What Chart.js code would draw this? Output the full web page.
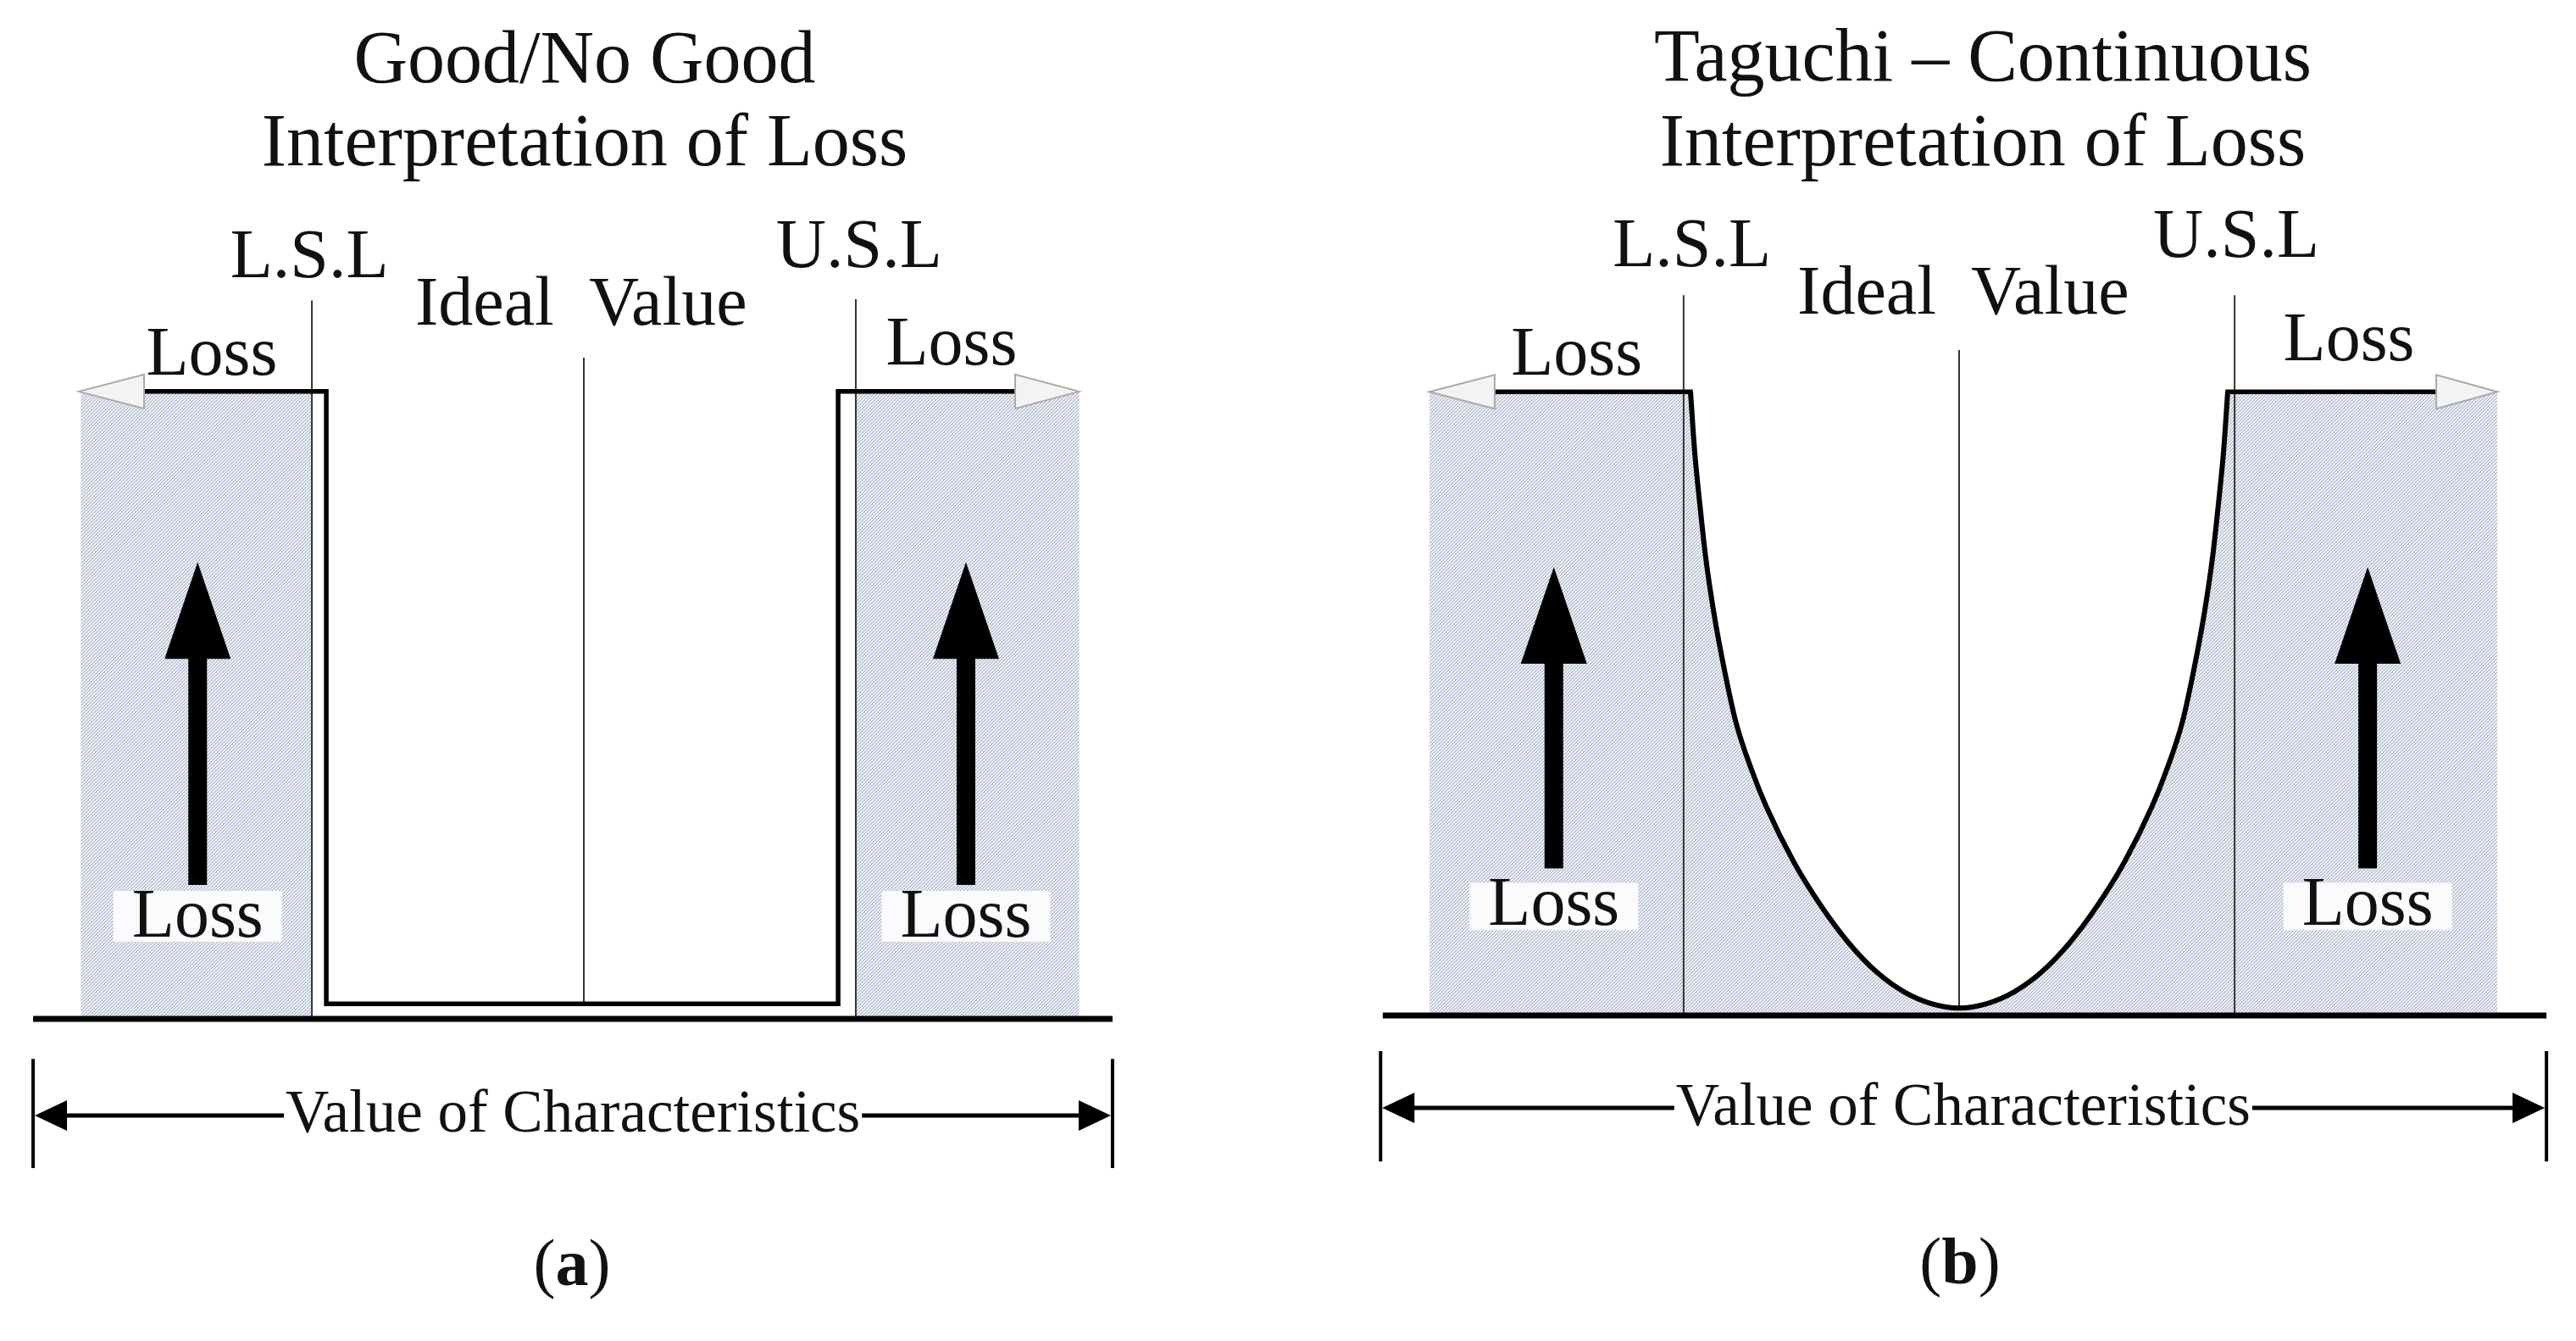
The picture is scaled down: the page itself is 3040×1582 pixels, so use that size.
<!DOCTYPE html>
<html>
<head>
<meta charset="utf-8">
<title>Good/No Good vs Taguchi loss</title>
<script src="https://cdn.jsdelivr.net/npm/chart.js@4.4.1/dist/chart.umd.min.js"></script>
<style>
    html, body { margin: 0; padding: 0; background: #fff; }
    #wrap { width: 3040px; height: 1582px; display: flex; }
    canvas { display: block; }
</style>
</head>
<body>
<div id="wrap">
    <canvas id="chartA" width="1520" height="1582"></canvas>
    <canvas id="chartB" width="1520" height="1582"></canvas>
</div>
<script>
// Characteristic value scaled so that L.S.L = -1, U.S.L = 1; loss scaled so max loss = 1
const specLimits = [-1, 1];
const idealValue = 0;
const maxLoss = 1;

// (a) Good/No Good – step loss
const stepX = [-1.617, -0.947, -0.947, 0.935, 0.935, 1.586];
const stepLoss = [1, 1, 0.024, 0.024, 1, 1];
const zoneEdgesA = [-1.85, 1.822];
const baseLineA = [-2.025, 1.944];
const limitTopsA = [1.145, 1.147];
const idealLineA = [0.024, 1.054];

// (b) Taguchi – continuous loss
const taguchiX = [-0.975, -0.96, -0.94, -0.92, -0.89, -0.85, -0.81, -0.75, -0.7, -0.6, -0.5, -0.4, -0.3, -0.2, -0.1, 0,
                  0.1, 0.2, 0.3, 0.4, 0.5, 0.6, 0.7, 0.75, 0.81, 0.85, 0.89, 0.92, 0.94, 0.96, 0.975];
const taguchiLoss = [1.00, 0.905, 0.815, 0.735, 0.645, 0.55, 0.47, 0.39, 0.335, 0.246, 0.175, 0.116, 0.07, 0.038, 0.019, 0.012,
                     0.019, 0.038, 0.07, 0.116, 0.175, 0.246, 0.335, 0.39, 0.47, 0.55, 0.645, 0.735, 0.815, 0.905, 1.00];
const flatEndsB = [-1.686, 1.732];
const zoneEdgesB = [-1.923, 1.954];
const baseLineB = [-2.092, 2.132];
const limitTopsB = [1.155, 1.155];
const idealLineB = [0.012, 1.067];

// text
const titleA = ['Good/No Good', 'Interpretation of Loss'];
const titleB = ['Taguchi \u2013 Continuous', 'Interpretation of Loss'];
const limitLabels = ['L.S.L', 'U.S.L'];
const idealLabel = 'Ideal  Value';
const lossLabel = 'Loss';
const axisLabel = 'Value of Characteristics';
const panelTags = ['a', 'b'];

const SERIF = '"Liberation Serif", "Times New Roman", serif';
const INK = '#111';

function hatchPattern(ctx) {
    const c = document.createElement('canvas');
    c.width = 4; c.height = 4;
    const g = c.getContext('2d');
    g.fillStyle = '#eaedf4';
    g.fillRect(0, 0, 4, 4);
    g.strokeStyle = '#9ca7c2';
    g.lineWidth = 1;
    g.beginPath();
    g.moveTo(0, 4); g.lineTo(4, 0);
    g.moveTo(-1, 1); g.lineTo(1, -1);
    g.moveTo(3, 5); g.lineTo(5, 3);
    g.stroke();
    return ctx.createPattern(c, 'repeat');
}

const pts = (xs, ys) => xs.map((x, i) => ({ x: x, y: ys[i] }));
const seg = (x0, y0, x1, y1) => [{ x: x0, y: y0 }, { x: x1, y: y1 }];

function shade(pattern, x0, x1) {
    return { data: seg(x0, maxLoss, x1, maxLoss), fill: 'origin', backgroundColor: pattern,
             borderWidth: 0, order: 6 };
}
function thin(data) {
    return { data: data, borderColor: '#333', borderWidth: 2, order: 3 };
}
function thick(data, extra) {
    return Object.assign({ data: data, borderColor: '#000', borderWidth: 5.5,
                           borderJoinStyle: 'miter', borderCapStyle: 'square', order: 1 }, extra || {});
}

// draws labels, arrows and the dimension line on top of the datasets
function annotations(p) {
    return {
        id: 'lossAnnotations',
        afterDraw(chart) {
            const ctx = chart.ctx;
            const px = v => chart.scales.x.getPixelForValue(v);
            const py = v => chart.scales.y.getPixelForValue(v);
            const text = (str, xv, yv, size, weight) => {
                ctx.font = (weight || 'normal') + ' ' + size + 'px ' + SERIF;
                ctx.fillStyle = INK;
                ctx.textAlign = 'center';
                ctx.textBaseline = 'alphabetic';
                ctx.fillText(str, px(xv), py(yv));
            };
            ctx.save();

            // hollow arrows at the ends of the loss line
            p.hollow.forEach(([tip, base]) => {
                const yy = py(maxLoss);
                ctx.beginPath();
                ctx.moveTo(px(tip), yy);
                ctx.lineTo(px(base), yy - 20);
                ctx.lineTo(px(base), yy + 20);
                ctx.closePath();
                ctx.fillStyle = '#f3f3f3';
                ctx.fill();
                ctx.strokeStyle = '#a9a9a9';
                ctx.lineWidth = 2;
                ctx.stroke();
            });

            // black "loss increases" arrows with boxed labels
            p.upArrows.forEach(xv => {
                const cx = px(xv);
                ctx.fillStyle = '#000';
                ctx.fillRect(cx - 11, py(p.arrowY[1]) - 1, 22, py(p.arrowY[0]) - py(p.arrowY[1]) + 1);
                ctx.beginPath();
                ctx.moveTo(cx - 39, py(p.arrowY[1]));
                ctx.lineTo(cx + 39, py(p.arrowY[1]));
                ctx.lineTo(cx, py(p.arrowY[2]));
                ctx.closePath();
                ctx.fill();

                ctx.font = '82px ' + SERIF;
                const w = ctx.measureText(lossLabel).width + 44;
                ctx.fillStyle = 'rgba(255,255,255,0.88)';
                ctx.fillRect(cx - w / 2, py(p.lowBox[0]), w, py(p.lowBox[1]) - py(p.lowBox[0]));
                text(lossLabel, xv, p.lowBox[2], 82);
            });

            // titles and labels
            p.title.forEach((t, i) => text(t, p.titleX, p.titleY[i], 88));
            text(limitLabels[0], p.lsl[0], p.lsl[1], 82);
            text(limitLabels[1], p.usl[0], p.usl[1], 82);
            text(idealLabel, p.ideal[0], p.ideal[1], 82);
            p.lossTop.forEach(([xv, yv]) => text(lossLabel, xv, yv, 82));

            // dimension line "Value of Characteristics"
            const d = p.dim;
            const L = px(d.left), R = px(d.right), Y = py(d.y);
            ctx.strokeStyle = '#000';
            ctx.lineWidth = 4;
            ctx.beginPath();
            ctx.moveTo(L, py(d.ticks[0])); ctx.lineTo(L, py(d.ticks[1]));
            ctx.moveTo(R, py(d.ticks[0])); ctx.lineTo(R, py(d.ticks[1]));
            ctx.stroke();
            ctx.font = '71px ' + SERIF;
            const tw = ctx.measureText(axisLabel).width;
            const tc = px(d.textX);
            ctx.lineWidth = 5;
            ctx.beginPath();
            ctx.moveTo(L + 30, Y); ctx.lineTo(tc - tw / 2 - 2, Y);
            ctx.moveTo(tc + tw / 2 + 2, Y); ctx.lineTo(R - 30, Y);
            ctx.stroke();
            ctx.fillStyle = '#000';
            [[L, 1], [R, -1]].forEach(([ex, dir]) => {
                ctx.beginPath();
                ctx.moveTo(ex + 2 * dir, Y);
                ctx.lineTo(ex + 40 * dir, Y - 18);
                ctx.lineTo(ex + 40 * dir, Y + 18);
                ctx.closePath();
                ctx.fill();
            });
            text(axisLabel, d.textX, d.textY, 71);

            // panel tag "(a)" / "(b)" with bold letter
            const size = 78;
            ctx.textAlign = 'left';
            ctx.font = size + 'px ' + SERIF;
            const wo = ctx.measureText('(').width, wc = ctx.measureText(')').width;
            ctx.font = 'bold ' + size + 'px ' + SERIF;
            const wl = ctx.measureText(p.tag).width;
            let tx = px(p.tagPos[0]) - (wo + wl + wc) / 2;
            const ty = py(p.tagPos[1]);
            ctx.fillStyle = INK;
            ctx.font = size + 'px ' + SERIF;
            ctx.fillText('(', tx, ty); tx += wo;
            ctx.font = 'bold ' + size + 'px ' + SERIF;
            ctx.fillText(p.tag, tx, ty); tx += wl;
            ctx.font = size + 'px ' + SERIF;
            ctx.fillText(')', tx, ty);

            ctx.restore();
        }
    };
}

function baseOptions(xr, yr, padding) {
    return {
        responsive: false,
        animation: false,
        devicePixelRatio: 1,
        events: [],
        layout: { padding: padding },
        elements: { point: { radius: 0 }, line: { tension: 0 } },
        plugins: {
            legend: { display: false },
            tooltip: { enabled: false },
            filler: { drawTime: 'beforeDatasetsDraw' }
        },
        scales: {
            x: { type: 'linear', display: false, min: xr[0], max: xr[1] },
            y: { type: 'linear', display: false, min: yr[0], max: yr[1] }
        }
    };
}

// ---- panel (a)
const ctxA = document.getElementById('chartA').getContext('2d');
const patA = hatchPattern(ctxA);
new Chart(ctxA, {
    type: 'line',
    data: {
        datasets: [
            shade(patA, zoneEdgesA[0], specLimits[0]),
            shade(patA, specLimits[1], zoneEdgesA[1]),
            thin(seg(specLimits[0], 0, specLimits[0], limitTopsA[0])),
            thin(seg(specLimits[1], 0, specLimits[1], limitTopsA[1])),
            thin(seg(idealValue, idealLineA[0], idealValue, idealLineA[1])),
            thick(pts(stepX, stepLoss), { borderCapStyle: 'butt' }),
            thick(seg(baseLineA[0], 0, baseLineA[1], 0), { borderWidth: 7, borderCapStyle: 'butt', order: 0 })
        ]
    },
    options: baseOptions([-2.1, 2.1], [-0.5, 1.62], { left: 15, right: 157, top: 3, bottom: 10 }),
    plugins: [annotations({
        title: titleA, titleX: 0.003, titleY: [1.493, 1.361],
        lsl: [-1.009, 1.182], usl: [1.012, 1.199], ideal: [-0.01, 1.107],
        lossTop: [[-1.368, 1.027], [1.352, 1.043]],
        hollow: [[-1.857, -1.617], [1.822, 1.586]],
        upArrows: [-1.42, 1.405], arrowY: [0.2135, 0.574, 0.728],
        lowBox: [0.204, 0.123, 0.131],
        dim: { left: -2.025, right: 1.944, y: -0.154, ticks: [-0.064, -0.238], textX: -0.04, textY: -0.18 },
        tag: panelTags[0], tagPos: [-0.044, -0.425]
    })]
});

// ---- panel (b)
const ctxB = document.getElementById('chartB').getContext('2d');
const patB = hatchPattern(ctxB);
const curveEnds = [taguchiX[0], taguchiX[taguchiX.length - 1]];
new Chart(ctxB, {
    type: 'line',
    data: {
        datasets: [
            shade(patB, zoneEdgesB[0], curveEnds[0]),
            shade(patB, curveEnds[1], zoneEdgesB[1]),
            thin(seg(specLimits[0], 0, specLimits[0], limitTopsB[0])),
            thin(seg(specLimits[1], 0, specLimits[1], limitTopsB[1])),
            thin(seg(idealValue, idealLineB[0], idealValue, idealLineB[1])),
            thick(pts(taguchiX, taguchiLoss), { fill: 'origin', backgroundColor: patB, borderWidth: 6,
                  cubicInterpolationMode: 'monotone', borderCapStyle: 'butt', borderJoinStyle: 'round' }),
            thick(seg(flatEndsB[0], maxLoss, curveEnds[0], maxLoss)),
            thick(seg(curveEnds[1], maxLoss, flatEndsB[1], maxLoss)),
            thick(seg(baseLineB[0], 0, baseLineB[1], 0), { borderWidth: 7, borderCapStyle: 'butt', order: 0 })
        ]
    },
    options: baseOptions([-2.15, 2.15], [-0.5, 1.62], { left: 93, right: 29, top: 6, bottom: 16 }),
    plugins: [annotations({
        title: titleB, titleX: 0.086, titleY: [1.499, 1.363],
        lsl: [-0.97, 1.202], usl: [1.006, 1.217], ideal: [0.015, 1.125],
        lossTop: [[-1.388, 1.027], [1.415, 1.05]],
        hollow: [[-1.923, -1.686], [1.954, 1.732]],
        upArrows: [-1.471, 1.483], arrowY: [0.236, 0.564, 0.719],
        lowBox: [0.213, 0.137, 0.145],
        dim: { left: -2.1, right: 2.132, y: -0.148, ticks: [-0.057, -0.234], textX: 0.015, textY: -0.175 },
        tag: panelTags[1], tagPos: [0.003, -0.43]
    })]
});
</script>
</body>
</html>
